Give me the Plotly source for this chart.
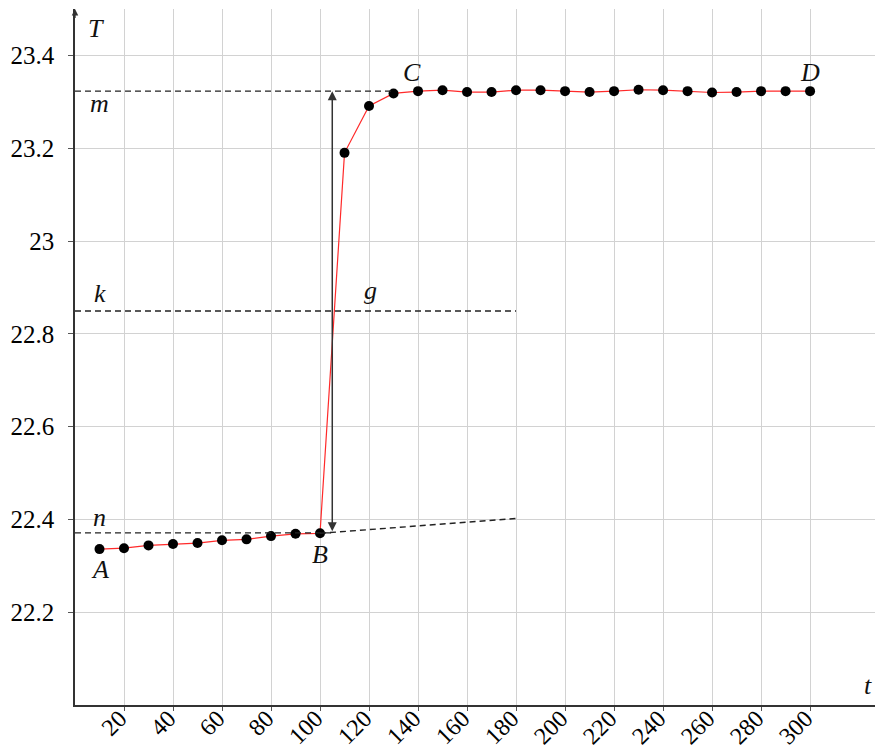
import plotly.graph_objects as go

# ---- data ----
t_values = [10, 20, 30, 40, 50, 60, 70, 80, 90, 100,
            110, 120, 130, 140, 150, 160, 170, 180, 190, 200,
            210, 220, 230, 240, 250, 260, 270, 280, 290, 300]
T_values = [22.336, 22.338, 22.344, 22.347, 22.349, 22.355, 22.357, 22.364, 22.369, 22.370,
            23.190, 23.291, 23.318, 23.323, 23.325, 23.321, 23.321, 23.325, 23.325, 23.323,
            23.321, 23.323, 23.326, 23.325, 23.323, 23.320, 23.321, 23.323, 23.323, 23.323]

x_tick_vals = [20, 40, 60, 80, 100, 120, 140, 160, 180, 200, 220, 240, 260, 280, 300]
x_tick_text = ["20", "40", "60", "80", "100", "120", "140", "160", "180", "200",
               "220", "240", "260", "280", "300"]
y_tick_vals = [22.2, 22.4, 22.6, 22.8, 23.0, 23.2, 23.4]
y_tick_text = ["22.2", "22.4", "22.6", "22.8", "23", "23.2", "23.4"]

level_m = 23.323
level_k = 22.849
level_n = 22.371
t_jump = 105
t_end_k = 180
T_extrap_end = 22.402
t_end_m = 130

x_range = [0, 326.5]
y_range = [22.0, 23.5]

serif = "Liberation Serif"

fig = go.Figure()

fig.add_trace(go.Scatter(
    x=t_values, y=T_values, mode="lines+markers",
    line=dict(color="#ff2a2a", width=1.2),
    marker=dict(color="black", size=10),
    showlegend=False, hoverinfo="skip",
))

dash_style = dict(color="#222222", width=1.4, dash="6px,4px")
shapes = [
    dict(type="line", xref="x", yref="y", x0=0, x1=t_end_m, y0=level_m, y1=level_m, line=dash_style),
    dict(type="line", xref="x", yref="y", x0=0, x1=t_end_k, y0=level_k, y1=level_k, line=dash_style),
    dict(type="line", xref="x", yref="y", x0=0, x1=t_jump, y0=level_n, y1=level_n, line=dash_style),
    dict(type="line", xref="x", yref="y", x0=t_values[9], x1=t_end_k, y0=T_values[9], y1=T_extrap_end, line=dash_style),
]

annotations = []
# double-headed vertical arrow
annotations.append(dict(
    x=t_jump, y=level_m, ax=t_jump, ay=level_n, xref="x", yref="y", axref="x", ayref="y",
    text="", showarrow=True, arrowhead=2, startarrowhead=2, arrowside="end+start",
    arrowsize=1.2, startarrowsize=1.2, arrowwidth=1.5, arrowcolor="#333333",
))
# y axis arrow at top
annotations.append(dict(
    x=0, y=1.0, ax=0, ay=0.985, xref="x", yref="y domain", axref="x", ayref="y domain",
    text="", showarrow=True, arrowhead=2, arrowsize=1, arrowwidth=1.3, arrowcolor="#333333",
))

lab_font = dict(family=serif, size=26, color="#111111")

def lab(text, x, y, xshift=0, yshift=0):
    annotations.append(dict(text="<i>%s</i>" % text, x=x, y=y, xref="x", yref="y",
                            showarrow=False, font=lab_font, xshift=xshift, yshift=yshift))

# point labels
lab("A", t_values[0], T_values[0], yshift=-20)
lab("B", t_values[9], T_values[9], yshift=-21)
lab("C", 137.5, level_m, yshift=19)
lab("D", t_values[-1], T_values[-1], yshift=19)
# level labels
lab("m", 10, level_m, yshift=-12)
lab("k", 10, level_k, yshift=18)
lab("n", 10, level_n, yshift=15)
lab("g", 120.5, level_k, yshift=21)
# axis labels
lab("T", 8.5, 23.459)
lab("t", 323.5, 22.041)

fig.update_layout(
    width=875, height=751,
    margin=dict(l=75, r=0, t=9, b=46, autoexpand=False),
    plot_bgcolor="white", paper_bgcolor="white",
    shapes=shapes, annotations=annotations,
    font=dict(family=serif, size=25, color="black"),
)

fig.update_xaxes(
    range=x_range, tickvals=x_tick_vals,
    ticktext=[s + "\u00a0" for s in x_tick_text], tickangle=-45,
    showgrid=True, gridcolor="#d2d2d2", gridwidth=1.2,
    showline=True, linecolor="#333333", linewidth=1.5,
    ticks="outside", ticklen=4, tickcolor="#555555",
    zeroline=False, automargin=False, ticklabelstandoff=-20,
    tickfont=dict(family=serif, size=24),
)
fig.update_yaxes(
    range=y_range, tickvals=y_tick_vals, ticktext=y_tick_text,
    showgrid=True, gridcolor="#d2d2d2", gridwidth=1.2,
    showline=True, linecolor="#333333", linewidth=1.5,
    ticks="outside", ticklen=5, tickcolor="#555555",
    zeroline=False, automargin=False, ticklabelstandoff=9,
    tickfont=dict(family=serif, size=25),
)

fig.write_html("out.html", config={"displayModeBar": False},
               post_script="document.body.style.margin='0';")
